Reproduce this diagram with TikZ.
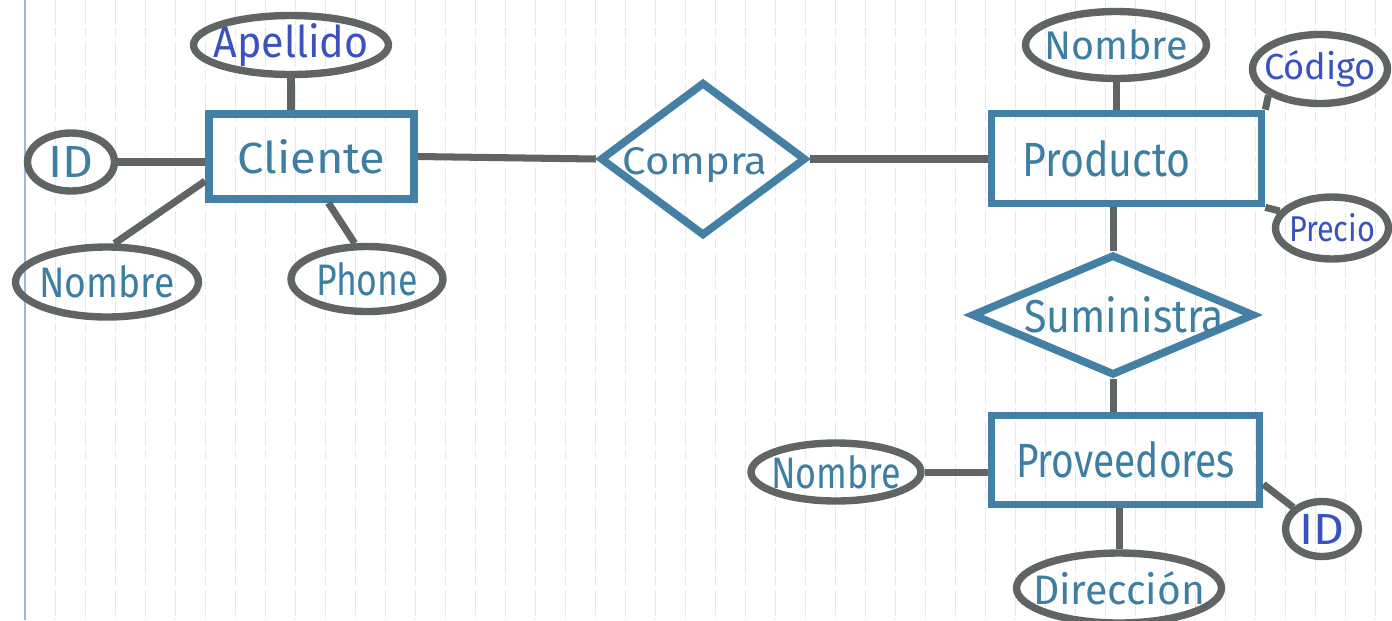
\documentclass[tikz,border=0pt]{standalone}
\usepackage{fontspec}
\setmainfont{Fira Sans}
\usetikzlibrary{shapes.geometric}

% one unit of the drawing grid
\newlength\pxu
\setlength\pxu{0.02cm}
% text squeezed to a given width and height (in grid units)
\newcommand\hw[3]{\resizebox{#1\pxu}{#2\pxu}{#3}}

\definecolor{entblue}{RGB}{68,128,163}
\definecolor{attrgrey}{RGB}{96,100,100}
\definecolor{inkteal}{RGB}{62,126,163}
\definecolor{inkroyal}{RGB}{58,82,192}
\definecolor{gridblue}{RGB}{222,234,247}
\definecolor{marginblue}{RGB}{150,185,220}

\begin{document}
\begin{tikzpicture}[x=0.02cm,y=-0.02cm,
  entity/.style={draw=entblue,line width=4.4pt,rectangle,inner sep=0pt},
  relation/.style={draw=entblue,line width=4.4pt,diamond,inner sep=0pt},
  attr/.style={draw=attrgrey,line width=4.2pt,ellipse,inner sep=0pt},
  ink/.style={text=inkteal,inner sep=0pt},
  inkr/.style={text=inkroyal,inner sep=0pt},
  link/.style={draw=attrgrey,line width=4pt},
  gridline/.style={draw=gridblue,line width=0.5pt,dash pattern=on 14pt off 2pt on 5pt off 3pt},
  marginline/.style={draw=marginblue,line width=0.7pt},
]
\useasboundingbox[fill=white] (0,0) rectangle (1392,620);

% ruled paper
\foreach \gx in {55,85,...,1385}
  \draw[gridline] (\gx,0) -- (\gx,620);
\draw[marginline] (25,0) -- (25,620);

% --- Cliente and its attributes
\node[entity,minimum width=4.1cm,minimum height=1.7cm,
  label={[ink]center:\hw{148}{34}{Cliente}}] (cliente) at (311.5,156.5) {};
\node[attr,minimum width=3.9cm,minimum height=1.18cm,
  label={[inkr]center:\hw{155}{34}{Apellido}}] (apellido) at (291,45) {};
\node[attr,minimum width=1.74cm,minimum height=1.16cm,
  label={[ink]center:\hw{45}{31}{ID}}] (idc) at (71,162) {};
\node[attr,minimum width=3.66cm,minimum height=1.4cm,
  label={[ink]center:\hw{135}{32}{Nombre}}] (nombrec) at (107,282) {};
\node[attr,minimum width=3.04cm,minimum height=1.3cm,
  label={[ink]center:\hw{102}{33}{Phone}}] (phone) at (367,279) {};

% --- Compra
\node[relation,minimum width=4.12cm,minimum height=3.08cm,
  label={[ink,xshift=-8\pxu,yshift=-6\pxu]center:\hw{145}{27}{Compra}}] (compra) at (703,159) {};

% --- Producto and its attributes
\node[entity,minimum width=5.4cm,minimum height=1.8cm,
  label={[ink,xshift=-20\pxu]center:\hw{168}{36}{Producto}}] (producto) at (1126.5,158.5) {};
\node[attr,minimum width=3.62cm,minimum height=1.34cm,
  label={[ink]center:\hw{143}{30}{Nombre}}] (nombrep) at (1116,45) {};
\node[attr,minimum width=2.7cm,minimum height=1.38cm,
  label={[inkr]center:\hw{112}{29}{Código}}] (codigo) at (1320,69) {};
\node[attr,minimum width=2.26cm,minimum height=1.24cm,
  label={[inkr]center:\hw{86}{28}{Precio}}] (precio) at (1332,228) {};

% --- Suministra
\node[relation,minimum width=5.66cm,minimum height=2.42cm,
  label={[ink,xshift=11\pxu]center:\hw{200}{36}{Suministra}}] (suministra) at (1113,315) {};

% --- Proveedores and its attributes
\node[entity,minimum width=5.36cm,minimum height=1.78cm,
  label={[ink]center:\hw{219}{36}{Proveedores}}] (proveedores) at (1125.5,460) {};
\node[attr,minimum width=3.4cm,minimum height=1.16cm,
  label={[ink]center:\hw{130}{33}{Nombre}}] (nombrev) at (836,472) {};
\node[attr,minimum width=1.46cm,minimum height=1.1cm,
  label={[inkr]center:\hw{45}{30}{ID}}] (idv) at (1322,529) {};
\node[attr,minimum width=4.1cm,minimum height=1.4cm,
  label={[ink]center:\hw{172}{33}{Dirección}}] (direccion) at (1119,588) {};

% --- connectors
\draw[link] (apellido.south) -- (apellido.south |- cliente.north);
\draw[link] (idc.east) -- (idc.east -| cliente.west);
\draw[link] (nombrec.79) -- (cliente.193);
\draw[link] (cliente.290) -- (phone.109);
\draw[link] (cliente.east) -- (compra.west);
\draw[link] (compra.east) -- (compra.east -| producto.west);
\draw[link] (nombrep.south) -- (nombrep.south |- producto.north);
\draw[link] (producto.north east) -- (codigo.207);
\draw[link] (producto.south east) -- (precio.162);
\draw[link] (suministra.north |- producto.south) -- (suministra.north);
\draw[link] (suministra.south) -- (suministra.south |- proveedores.north);
\draw[link] (nombrev.east) -- (nombrev.east -| proveedores.west);
\draw[link] (proveedores.350) -- (idv.143);
\draw[link] (direccion.north |- proveedores.south) -- (direccion.north);
\end{tikzpicture}
\end{document}
